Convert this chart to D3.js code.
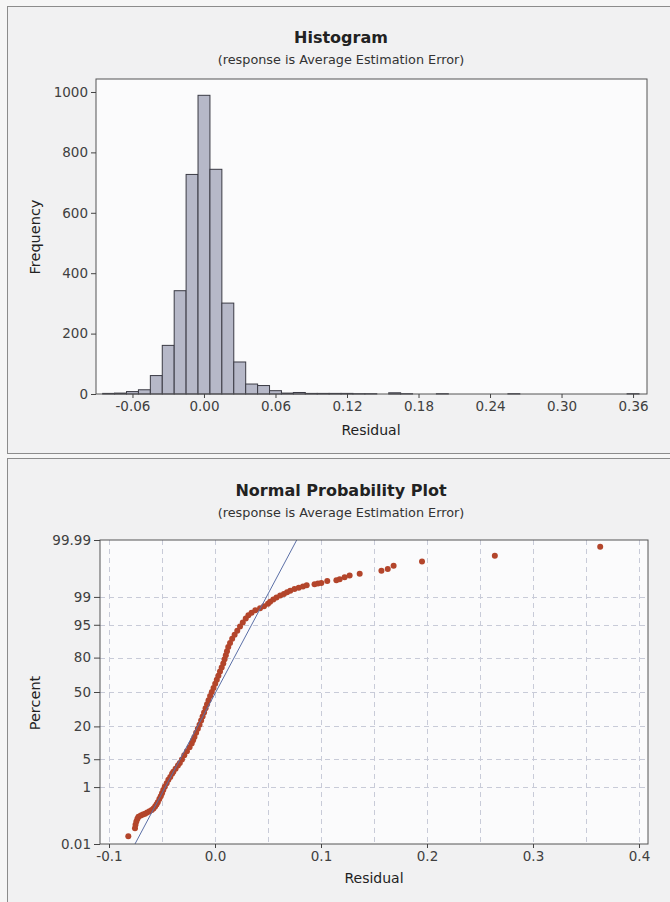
<!DOCTYPE html>
<html>
<head>
<meta charset="utf-8">
<script src="https://cdn.jsdelivr.net/npm/d3@7"></script>
<style>
  body { margin: 0; background: #f6f6f6; }
  svg { display: block; font-family: "DejaVu Sans", Verdana, sans-serif; }
</style>
</head>
<body>
<svg width="670" height="902"></svg>
<script>
// ---- histogram data (bin centres, bin width 0.01) ----
const hist_bins = [-0.08, -0.07, -0.06, -0.05, -0.04, -0.03, -0.02, -0.01, 0.00, 0.01, 0.02, 0.03, 0.04,
  0.05, 0.06, 0.07, 0.08, 0.09, 0.10, 0.11, 0.12, 0.13, 0.14, 0.16, 0.17, 0.20, 0.26, 0.36];
const hist_counts = [2, 3, 8, 14, 61, 161, 342, 727, 989, 744, 301, 106, 33,
  28, 11, 3, 5, 2, 2, 2, 2, 1, 1, 4, 1, 1, 1, 1];
const hist_ticks_x = [-0.06, 0.00, 0.06, 0.12, 0.18, 0.24, 0.30, 0.36];
const hist_ticks_y = [0, 200, 400, 600, 800, 1000];

// ---- normal probability plot data ----
const npp_residual = [-0.0818, -0.0755, -0.0750, -0.0742, -0.0732, -0.0722, -0.0700, -0.0680, -0.0660, -0.0640,
  -0.0618, -0.0597, -0.0580, -0.0565, -0.0552, -0.0540, -0.0525, -0.0512, -0.0500, -0.0488,
  -0.0474, -0.0456, -0.0440, -0.0422, -0.0405, -0.0393, -0.0372, -0.0350, -0.0332, -0.0312,
  -0.0290, -0.0265, -0.0240, -0.0220, -0.0207, -0.0194, -0.0178, -0.0162, -0.0146, -0.0131,
  -0.0117, -0.0103, -0.0089, -0.0075, -0.0061, -0.0046, -0.0030, -0.0014, 0.0002, 0.0017,
  0.0032, 0.0047, 0.0063, 0.0078, 0.0090, 0.0102, 0.0113, 0.0125, 0.0142, 0.0162,
  0.0185, 0.0210, 0.0236, 0.0262, 0.0290, 0.0315, 0.0345, 0.0380, 0.0425, 0.0462,
  0.0500, 0.0520, 0.0550, 0.0580, 0.0615, 0.0650, 0.0680, 0.0710, 0.0750, 0.0790,
  0.0830, 0.0865, 0.0939, 0.0971, 0.1003, 0.1059, 0.1145, 0.1176, 0.1223, 0.1270,
  0.1365, 0.1570, 0.1630, 0.1685, 0.1953, 0.2640, 0.3634];
const npp_percent = [0.021, 0.043, 0.058, 0.076, 0.097, 0.114, 0.126, 0.135, 0.144, 0.159,
  0.175, 0.193, 0.219, 0.256, 0.298, 0.347, 0.440, 0.539, 0.657, 0.820,
  1.017, 1.287, 1.578, 1.876, 2.275, 2.559, 3.005, 3.593, 4.093, 4.947,
  6.057, 7.353, 8.851, 10.38, 11.90, 13.57, 15.87, 18.41, 21.19, 24.20,
  27.43, 30.85, 34.46, 38.21, 42.07, 46.02, 50.00, 53.98, 57.93, 61.79,
  65.54, 69.15, 72.57, 75.80, 78.81, 81.59, 84.13, 86.43, 88.49, 90.32,
  91.92, 93.32, 94.52, 95.54, 96.41, 96.99, 97.38, 97.72, 97.98, 98.21,
  98.46, 98.64, 98.81, 98.96, 99.09, 99.18, 99.27, 99.34, 99.41, 99.46,
  99.51, 99.55, 99.58, 99.60, 99.62, 99.67, 99.69, 99.71, 99.75, 99.78,
  99.81, 99.85, 99.87, 99.90, 99.93, 99.957, 99.981];
// fitted normal reference line (end points)
const fit_residual = [-0.0755, 0.0771];
const fit_percent = [0.01, 99.99];
const npp_ticks_x = [-0.1, 0.0, 0.1, 0.2, 0.3, 0.4];
const npp_grid_x = [-0.1, -0.05, 0.0, 0.05, 0.1, 0.15, 0.2, 0.25, 0.3, 0.35, 0.4];
const npp_ticks_y = [0.01, 1, 5, 20, 50, 80, 95, 99, 99.99];
const npp_labels_y = ["0.01", "1", "5", "20", "50", "80", "95", "99", "99.99"];

// inverse normal cdf (Acklam), used to build the probability axis
function probit(p) {
  const a = [-39.69683028665376, 220.9460984245205, -275.9285104469687, 138.357751867269, -30.66479806614716, 2.506628277459239];
  const b = [-54.47609879822406, 161.5858368580409, -155.6989798598866, 66.80131188771972, -13.28068155288572];
  const c = [-0.007784894002430293, -0.3223964580411365, -2.400758277161838, -2.549671010422304, 4.374664141464968, 2.938163982698783];
  const d = [0.007784695709041462, 0.3224671290700398, 2.445134137142996, 3.754408661907416];
  const plow = 0.02425;
  let q, r;
  if (p < plow) {
    q = Math.sqrt(-2 * Math.log(p));
    return (((((c[0] * q + c[1]) * q + c[2]) * q + c[3]) * q + c[4]) * q + c[5]) / ((((d[0] * q + d[1]) * q + d[2]) * q + d[3]) * q + 1);
  }
  if (p > 1 - plow) {
    q = Math.sqrt(-2 * Math.log(1 - p));
    return -(((((c[0] * q + c[1]) * q + c[2]) * q + c[3]) * q + c[4]) * q + c[5]) / ((((d[0] * q + d[1]) * q + d[2]) * q + d[3]) * q + 1);
  }
  q = p - 0.5;
  r = q * q;
  return (((((a[0] * r + a[1]) * r + a[2]) * r + a[3]) * r + a[4]) * r + a[5]) * q / (((((b[0] * r + b[1]) * r + b[2]) * r + b[3]) * r + b[4]) * r + 1);
}

const svg = d3.select("svg");
const tick_color = "#404040";

function drawPanel(y0, y1, title, subtitle, title_y) {
  svg.append("rect")
    .attr("x", 7.5).attr("y", y0 + 0.5)
    .attr("width", 672).attr("height", y1 - y0)
    .attr("fill", "#f1f1f2").attr("stroke", "#8c8c8c");
  svg.append("text")
    .attr("x", 341).attr("y", title_y)
    .attr("text-anchor", "middle")
    .attr("font-size", "16px").attr("font-weight", "bold").attr("fill", "#222")
    .text(title);
  svg.append("text")
    .attr("x", 341).attr("y", title_y + 21)
    .attr("text-anchor", "middle")
    .attr("font-size", "12.8px").attr("fill", "#333")
    .text(subtitle);
}

function styleAxis(g) {
  g.select(".domain").remove();
  g.selectAll(".tick line").attr("stroke", "#444");
  g.selectAll(".tick text").attr("fill", tick_color).attr("font-size", "13.5px")
    .attr("font-family", "DejaVu Sans, Verdana, sans-serif");
}

function drawHistogram() {
  drawPanel(6, 453, "Histogram", "(response is Average Estimation Error)", 43);

  const x = d3.scaleLinear().domain([-0.0906, 0.3717]).range([96, 647]);
  const y = d3.scaleLinear().domain([0, 1043]).range([394, 79]);

  svg.append("rect")
    .attr("x", 96).attr("y", 79)
    .attr("width", 551).attr("height", 315)
    .attr("fill", "#fbfbfc");

  svg.append("g").selectAll("rect")
    .data(hist_bins.map((b, i) => ({ bin: b, count: hist_counts[i] })))
    .join("rect")
    .attr("x", d => x(d.bin - 0.005))
    .attr("y", d => y(d.count))
    .attr("width", d => x(d.bin + 0.005) - x(d.bin - 0.005))
    .attr("height", d => y(0) - y(d.count))
    .attr("fill", "#b6b8c8")
    .attr("stroke", "#3a3a44")
    .attr("stroke-width", 1);

  svg.append("rect")
    .attr("x", 96).attr("y", 79)
    .attr("width", 551).attr("height", 315)
    .attr("fill", "none").attr("stroke", "#555");

  svg.append("g")
    .attr("transform", "translate(0,394)")
    .call(d3.axisBottom(x).tickValues(hist_ticks_x).tickFormat(d => d.toFixed(2)).tickSize(4).tickPadding(3))
    .call(styleAxis);

  svg.append("g")
    .attr("transform", "translate(96,0)")
    .call(d3.axisLeft(y).tickValues(hist_ticks_y).tickFormat(d3.format("d")).tickSize(5).tickPadding(3))
    .call(styleAxis);

  svg.append("text")
    .attr("x", 371).attr("y", 435)
    .attr("text-anchor", "middle")
    .attr("font-size", "14px").attr("fill", "#1e1e1e")
    .text("Residual");

  svg.append("text")
    .attr("transform", "translate(40,237) rotate(-90)")
    .attr("text-anchor", "middle")
    .attr("font-size", "14.5px").attr("fill", "#222")
    .text("Frequency");
}

function drawProbabilityPlot() {
  drawPanel(458, 930, "Normal Probability Plot", "(response is Average Estimation Error)", 496);

  const x = d3.scaleLinear().domain([-0.1085, 0.4085]).range([100, 648]);
  const z_max = probit(0.9999);
  const y = d3.scaleLinear().domain([-z_max, z_max]).range([844, 540]);
  const py = p => y(probit(p / 100));

  svg.append("rect")
    .attr("x", 100).attr("y", 540)
    .attr("width", 548).attr("height", 304)
    .attr("fill", "#fbfbfc");

  // dashed reference grid
  const grid = svg.append("g")
    .attr("stroke", "#c8cbd8").attr("stroke-dasharray", "5,4").attr("stroke-width", 1);
  grid.selectAll(".gx").data(npp_grid_x).join("line")
    .attr("class", "gx")
    .attr("x1", d => Math.round(x(d)) + 0.5).attr("x2", d => Math.round(x(d)) + 0.5)
    .attr("y1", 540).attr("y2", 844);
  grid.selectAll(".gy").data(npp_ticks_y.slice(1, -1)).join("line")
    .attr("class", "gy")
    .attr("x1", 100).attr("x2", 648)
    .attr("y1", d => Math.round(py(d)) + 0.5).attr("y2", d => Math.round(py(d)) + 0.5);

  // points
  svg.append("g").selectAll("circle")
    .data(npp_residual.map((r, i) => ({ r: r, p: npp_percent[i] })))
    .join("circle")
    .attr("cx", d => x(d.r))
    .attr("cy", d => py(d.p))
    .attr("r", 3)
    .attr("fill", "#b3452b");

  // fitted line
  svg.append("line")
    .attr("x1", x(fit_residual[0])).attr("y1", py(fit_percent[0]))
    .attr("x2", x(fit_residual[1])).attr("y2", py(fit_percent[1]))
    .attr("stroke", "#5b6fa6").attr("stroke-width", 1);

  svg.append("rect")
    .attr("x", 100).attr("y", 540)
    .attr("width", 548).attr("height", 304)
    .attr("fill", "none").attr("stroke", "#555");

  svg.append("g")
    .attr("transform", "translate(0,844)")
    .call(d3.axisBottom(x).tickValues(npp_ticks_x).tickFormat(d => d.toFixed(1)).tickSize(4).tickPadding(3))
    .call(styleAxis);

  svg.append("g")
    .attr("transform", "translate(100,0)")
    .call(d3.axisLeft(y).tickValues(npp_ticks_y.map(p => probit(p / 100)))
      .tickFormat((d, i) => npp_labels_y[i]).tickSize(6).tickPadding(3))
    .call(styleAxis);

  svg.append("text")
    .attr("x", 374).attr("y", 883)
    .attr("text-anchor", "middle")
    .attr("font-size", "14px").attr("fill", "#1e1e1e")
    .text("Residual");

  svg.append("text")
    .attr("transform", "translate(40,703) rotate(-90)")
    .attr("text-anchor", "middle")
    .attr("font-size", "14.5px").attr("fill", "#222")
    .text("Percent");
}

drawHistogram();
drawProbabilityPlot();
</script>
</body>
</html>
